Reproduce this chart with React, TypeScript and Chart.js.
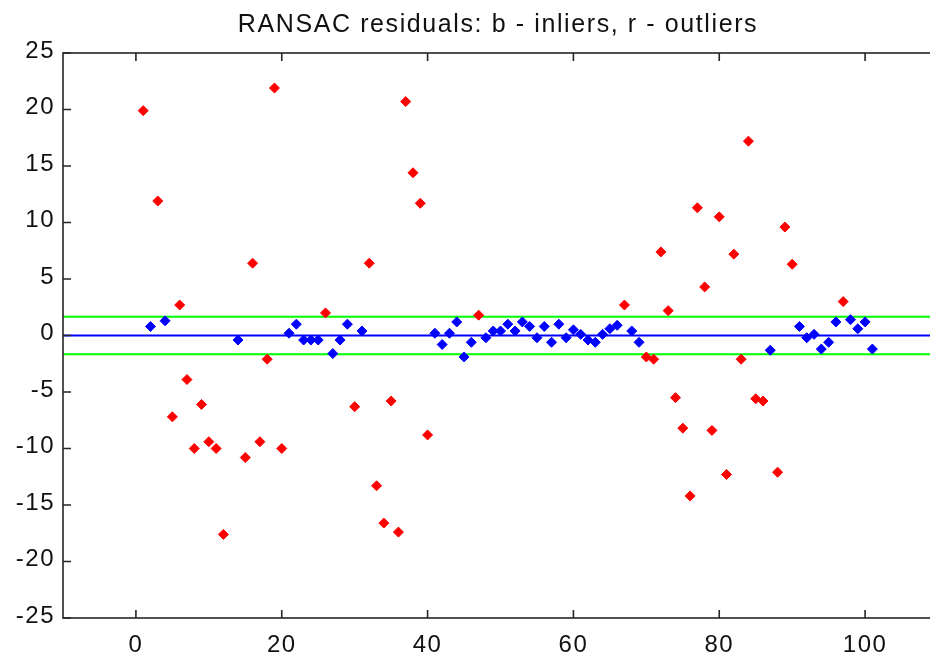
import { useEffect, useRef } from "react";
import { Chart, registerables } from "chart.js";

Chart.register(...registerables);

const TITLE = "RANSAC residuals: b - inliers, r - outliers";

// Samples that fall inside the threshold band (blue)
const inlierX = [2, 4, 14, 21, 22, 23, 24, 25, 27, 28, 29, 31, 41, 42, 43, 44, 45, 46, 48, 49, 50, 51, 52, 53, 54, 55, 56, 57, 58, 59, 60, 61, 62, 63, 64, 65, 66, 68, 69, 87, 91, 92, 93, 94, 95, 96, 98, 99, 100, 101];
const inlierY = [0.8, 1.3, -0.4, 0.2, 1.0, -0.4, -0.4, -0.4, -1.6, -0.4, 1.0, 0.4, 0.2, -0.8, 0.2, 1.2, -1.9, -0.6, -0.2, 0.4, 0.4, 1.0, 0.4, 1.2, 0.8, -0.2, 0.8, -0.6, 1.0, -0.2, 0.5, 0.1, -0.4, -0.6, 0.1, 0.6, 0.9, 0.4, -0.6, -1.3, 0.8, -0.2, 0.1, -1.2, -0.6, 1.2, 1.4, 0.6, 1.2, -1.2];

// Samples rejected by the fit (red)
const outlierX = [1, 3, 5, 6, 7, 8, 9, 10, 11, 12, 15, 16, 17, 18, 19, 20, 26, 30, 32, 33, 34, 35, 36, 37, 38, 39, 40, 47, 67, 70, 71, 72, 73, 74, 75, 76, 77, 78, 79, 80, 81, 82, 83, 84, 85, 86, 88, 89, 90, 97];
const outlierY = [19.9, 11.9, -7.2, 2.7, -3.9, -10.0, -6.1, -9.4, -10.0, -17.6, -10.8, 6.4, -9.4, -2.1, 21.9, -10.0, 2.0, -6.3, 6.4, -13.3, -16.6, -5.8, -17.4, 20.7, 14.4, 11.7, -8.8, 1.8, 2.7, -1.9, -2.1, 7.4, 2.2, -5.5, -8.2, -14.2, 11.3, 4.3, -8.4, 10.5, -12.3, 7.2, -2.1, 17.2, -5.6, -5.8, -12.1, 9.6, 6.3, 3.0];

const xTicks = [0, 20, 40, 60, 80, 100];
const yTicks = [-25, -20, -15, -10, -5, 0, 5, 10, 15, 20, 25];
const xRange = [-10, 110];
const yRange = [-25, 25];

const fitLevel = 0;
const threshold = 1.65;

const FONT = '"Liberation Sans", Arial, Helvetica, sans-serif';

const toPoints = (xs: number[], ys: number[]) => xs.map((x, i) => ({ x, y: ys[i] }));
const hLine = (y: number) => [
  { x: xRange[0], y },
  { x: xRange[1], y },
];

// Boxed axes with inward tick marks on all four sides, plus the title
const framePlugin = {
  id: "frameAndTitle",
  beforeDraw(chart: any) {
    chart.ctx.letterSpacing = "1.5px";
  },
  afterDraw(chart: any) {
    const { ctx, chartArea: a, scales } = chart;
    ctx.save();
    ctx.strokeStyle = "#262626";
    ctx.lineWidth = 1.6;
    ctx.strokeRect(a.left, a.top, a.right - a.left, a.bottom - a.top);
    const len = 8;
    ctx.beginPath();
    for (const v of xTicks) {
      const px = scales.x.getPixelForValue(v);
      ctx.moveTo(px, a.bottom);
      ctx.lineTo(px, a.bottom - len);
      ctx.moveTo(px, a.top);
      ctx.lineTo(px, a.top + len);
    }
    for (const v of yTicks) {
      const py = scales.y.getPixelForValue(v);
      ctx.moveTo(a.left, py);
      ctx.lineTo(a.left + len, py);
      ctx.moveTo(a.right, py);
      ctx.lineTo(a.right - len, py);
    }
    ctx.stroke();

    ctx.letterSpacing = "1.6px";
    ctx.font = `25px ${FONT}`;
    ctx.fillStyle = "#111";
    ctx.textAlign = "center";
    ctx.textBaseline = "alphabetic";
    ctx.fillText(TITLE, (a.left + a.right) / 2 - 2.5, 31.5);
    ctx.restore();
  },
};

export default function App() {
  const canvasRef = useRef<HTMLCanvasElement | null>(null);

  useEffect(() => {
    const canvas = canvasRef.current;
    if (!canvas) return;

    const markerStyle = (color: string) => ({
      pointStyle: "rectRot" as const,
      pointRadius: 5,
      pointBorderWidth: 1,
      pointBackgroundColor: color,
      pointBorderColor: color,
      showLine: false,
    });

    const chart = new Chart(canvas, {
      type: "scatter",
      data: {
        datasets: [
          { label: "inliers", data: toPoints(inlierX, inlierY), ...markerStyle("#0000ff"), order: 0 },
          { label: "outliers", data: toPoints(outlierX, outlierY), ...markerStyle("#ff0000"), order: 0 },
          { label: "fit", data: hLine(fitLevel), showLine: true, pointRadius: 0, borderColor: "#0000ff", borderWidth: 2, order: 1 },
          { label: "upper", data: hLine(threshold), showLine: true, pointRadius: 0, borderColor: "#00ff00", borderWidth: 2, order: 1 },
          { label: "lower", data: hLine(-threshold), showLine: true, pointRadius: 0, borderColor: "#00ff00", borderWidth: 2, order: 1 },
        ],
      },
      options: {
        responsive: false,
        animation: false,
        events: [],
        layout: { padding: { top: 53, right: 12, left: 0, bottom: 0 } },
        plugins: {
          legend: { display: false },
          title: { display: false },
          tooltip: { enabled: false },
        },
        scales: {
          x: {
            type: "linear",
            min: xRange[0],
            max: xRange[1],
            grid: { display: false, drawTicks: false },
            border: { display: false },
            afterBuildTicks: (s: any) => {
              s.ticks = xTicks.map((value) => ({ value }));
            },
            afterFit: (s: any) => {
              s.height = 34;
            },
            ticks: {
              autoSkip: false,
              maxRotation: 0,
              padding: 13,
              color: "#111",
              font: { family: FONT, size: 24 },
            },
          },
          y: {
            type: "linear",
            min: yRange[0],
            max: yRange[1],
            grid: { display: false, drawTicks: false },
            border: { display: false },
            afterBuildTicks: (s: any) => {
              s.ticks = yTicks.map((value) => ({ value }));
            },
            afterFit: (s: any) => {
              s.width = 63;
            },
            ticks: {
              autoSkip: false,
              padding: 8,
              labelOffset: -2,
              color: "#111",
              font: { family: FONT, size: 24 },
            },
          },
        },
      },
      plugins: [framePlugin],
    });

    return () => chart.destroy();
  }, []);

  return (
    <div
      style={{
        position: "fixed",
        left: 0,
        top: 0,
        width: 930,
        height: 652,
        overflow: "hidden",
        background: "#ffffff",
      }}
    >
      <canvas
        ref={canvasRef}
        width={950}
        height={652}
        style={{ display: "block", width: 950, height: 652 }}
      />
    </div>
  );
}
